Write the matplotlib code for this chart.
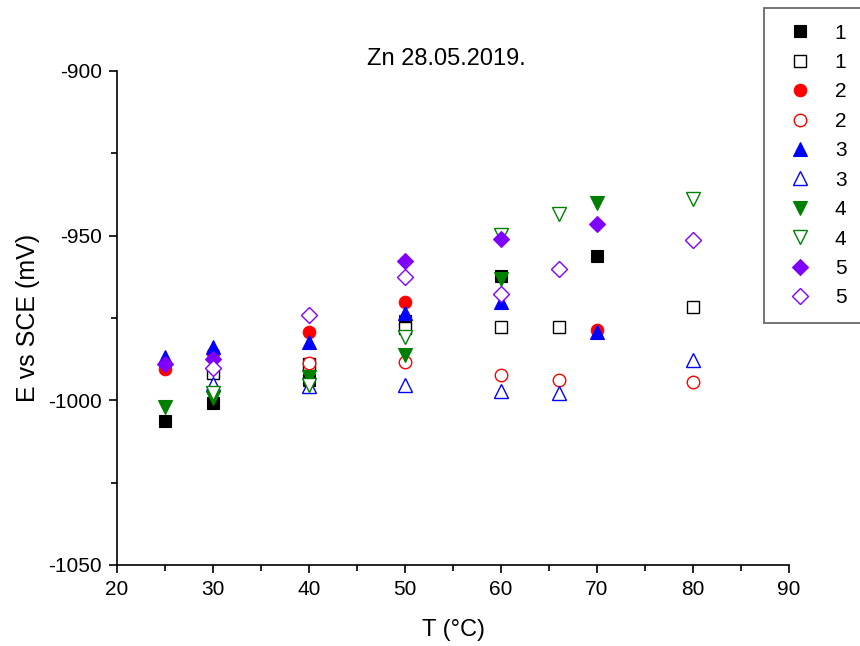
import numpy as np
import matplotlib
matplotlib.use("Agg")
import matplotlib.pyplot as plt
from matplotlib.ticker import MultipleLocator

plt.rcParams['font.family'] = ['Liberation Sans', 'DejaVu Sans']
plt.rcParams['axes.unicode_minus'] = False

nan = np.nan
T_filled = [25, 30, 40, 50, 60, 70]
T_open = [30, 40, 50, 60, 66, 80]

s1_filled = [-1006.3, -1000.9, -993.8, -975.8, -962.2, -956.3]
s1_open = [-991.8, -989.0, -978.0, -977.8, -977.8, -971.8]
s2_filled = [-990.6, -985.6, -979.4, -970.1, nan, -978.6]
s2_open = [nan, -988.8, -988.3, -992.3, -993.8, -994.5]
s3_filled = [-986.8, -983.9, -982.2, -973.6, -970.0, -979.3]
s3_open = [-994.9, -995.6, -995.3, -997.3, -997.9, -987.8]
s4_filled = [-1002.1, -999.4, -992.8, -986.2, -963.2, -940.0]
s4_open = [-997.9, -995.3, -980.7, -949.8, -943.5, -938.9]
s5_filled = [-989.1, -987.5, nan, -957.6, -951.1, -946.4]
s5_open = [-990.3, -974.1, -962.5, -967.7, -960.1, -951.4]

labels = ["1", "1", "2", "2", "3", "3", "4", "4", "5", "5"]
colors = ["#000000", "#FF0000", "#0000FF", "#008000", "#8000FF"]
markers = ["s", "o", "^", "v", "D"]
sizes = [8, 9, 10, 10, 8]

filled = [s1_filled, s2_filled, s3_filled, s4_filled, s5_filled]
opened = [s1_open, s2_open, s3_open, s4_open, s5_open]

fig = plt.figure(figsize=(8.6, 6.46), dpi=100)
ax = fig.add_axes([117/860, 1-565/646, (789-117)/860, (565-71)/646])

for i in range(5):
    ax.plot(T_filled, filled[i], linestyle='none', marker=markers[i],
            color=colors[i], markersize=sizes[i], markeredgewidth=0.8,
            label=labels[2*i])
    ax.plot(T_open, opened[i], linestyle='none', marker=markers[i],
            markerfacecolor='white', markeredgecolor=colors[i],
            markersize=sizes[i], markeredgewidth=1.0, label=labels[2*i+1])

ax.set_xlim(20, 90)
ax.set_ylim(-1050, -900)
ax.xaxis.set_major_locator(MultipleLocator(10))
ax.xaxis.set_minor_locator(MultipleLocator(5))
ax.yaxis.set_major_locator(MultipleLocator(50))
ax.yaxis.set_minor_locator(MultipleLocator(25))
for s in ['top', 'right']:
    ax.spines[s].set_visible(False)
for s in ['left', 'bottom']:
    ax.spines[s].set_linewidth(1.2)
ax.tick_params(which='major', direction='out', length=6, width=1.2, labelsize=15, pad=5)
ax.tick_params(which='minor', direction='out', length=4, width=1.2)

ax.set_xlabel("T (°C)", fontsize=17, labelpad=14)
ax.set_ylabel("E vs SCE (mV)", fontsize=18, labelpad=6)
ax.set_title("Zn 28.05.2019.", fontsize=17, pad=4, x=0.49)

leg = fig.legend(loc='upper left', bbox_to_anchor=(764/860, 1-8/646),
                 bbox_transform=fig.transFigure, fontsize=15, frameon=True,
                 fancybox=False, edgecolor='#444444', borderaxespad=0,
                 handletextpad=0.65, labelspacing=0.5, borderpad=0.75,
                 handlelength=2.0, numpoints=1)
leg.get_frame().set_linewidth(1.3)

fig.savefig("out.png", dpi=100)
